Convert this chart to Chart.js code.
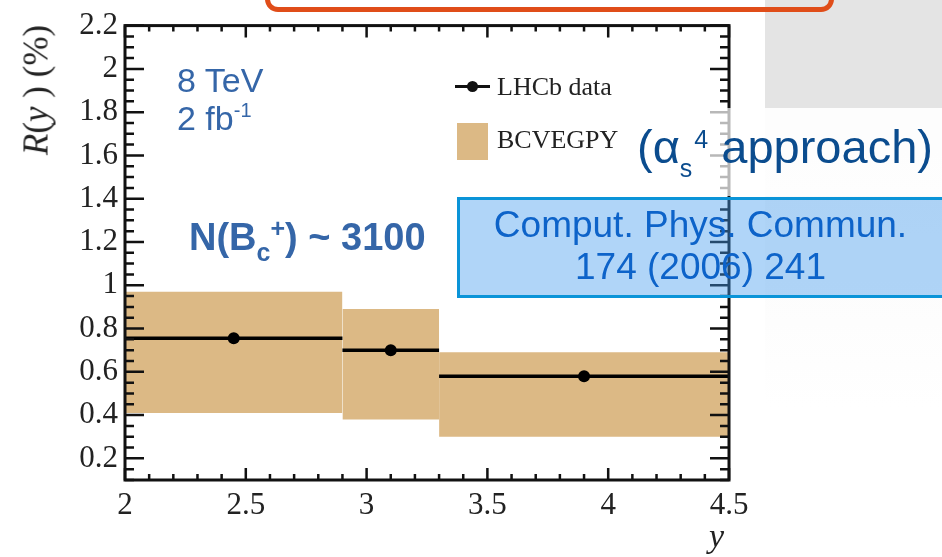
<!DOCTYPE html>
<html>
<head>
<meta charset="utf-8">
<script src="https://cdn.jsdelivr.net/npm/chart.js@4.4.1/dist/chart.umd.min.js"></script>
<style>
html,body{margin:0;padding:0;background:#fff;overflow:hidden}
#wrap{position:relative;width:942px;height:557px;overflow:hidden;background:#fff}
.abs{position:absolute;white-space:nowrap;line-height:1}
.serif{font-family:"Liberation Serif","Times New Roman",serif}
.sans{font-family:"Liberation Sans",Arial,sans-serif}
canvas{position:absolute;left:0;top:0}
</style>
</head>
<body>
<div id="wrap">
  <div class="abs" style="left:765px;top:0;width:177px;height:108px;background:#e4e4e4"></div>
  <div class="abs" style="left:765px;top:108px;width:177px;height:300px;background:linear-gradient(#f8f8f8,#ffffff)"></div>
  <canvas id="c" width="942" height="557"></canvas>

  <div class="abs" style="left:265px;top:-30px;width:559px;height:32px;border:5px solid #e04d19;border-radius:13px"></div>

  <div class="abs" style="left:455px;top:85px;width:35px;height:3px;background:#111"></div>
  <div class="abs" style="left:466.5px;top:81px;width:11px;height:11px;border-radius:50%;background:#111"></div>
  <div class="abs serif" style="left:497px;top:74px;font-size:26px;color:#222">LHCb data</div>
  <div class="abs" style="left:457px;top:123px;width:31px;height:37px;background:#dcb985"></div>
  <div class="abs serif" style="left:497px;top:127px;font-size:26px;color:#222">BCVEGPY</div>

  <div class="abs" style="left:630px;top:108px;width:312px;height:88px;background:rgba(255,255,255,0.7)"></div>
  <div class="abs sans" style="left:637px;top:123px;font-size:47px;color:#0b4c8e">(α<span style="font-size:25px;position:relative;top:14px">s</span><span style="font-size:25px;position:relative;top:-15px;margin-left:2px">4</span> approach)</div>

  <div class="abs" style="left:457px;top:197px;width:520px;height:95px;border:3px solid #0a94d8;background:rgba(67,155,238,0.42)"></div>
  <div class="abs sans" style="left:400px;top:204px;width:601px;text-align:center;font-size:37px;line-height:42px;color:#0d63c9">Comput. Phys. Commun.<br>174 (2006) 241</div>

  <div class="abs sans" style="left:177px;top:63px;font-size:34px;color:#3566a8">8 TeV</div>
  <div class="abs sans" style="left:177px;top:101px;font-size:34px;color:#3566a8">2 fb<span style="font-size:20px;position:relative;top:-13px">-1</span></div>
  <div class="abs sans" style="left:189px;top:218px;font-size:38px;font-weight:bold;color:#3566a8">N(B<span style="font-size:25px;position:relative;top:11px">c</span><span style="font-size:25px;position:relative;top:-13px">+</span>) ~ 3100</div>

  <div class="abs serif" style="left:36px;top:90px;font-size:35px;color:#222;transform:translate(-50%,-50%) rotate(-90deg)"><i>R</i>(<i>y</i> ) (%)</div>
  <div class="abs serif" style="left:709px;top:519px;font-size:34px;color:#222"><i>y</i></div>
</div>
<script>
// ---- data ----
const binLow      = [2.0, 2.9, 3.3];
const binHigh     = [2.9, 3.3, 4.5];
const dataX       = [2.45, 3.10, 3.90];
const dataY       = [0.755, 0.70, 0.58];
const theoryLow   = [0.41, 0.38, 0.30];
const theoryHigh  = [0.97, 0.89, 0.69];
const xTickValues = [2, 2.5, 3, 3.5, 4, 4.5];
const xTickLabels = ['2', '2.5', '3', '3.5', '4', '4.5'];
const yTickValues = [0.2, 0.4, 0.6, 0.8, 1.0, 1.2, 1.4, 1.6, 1.8, 2.0, 2.2];
const yTickLabels = ['0.2', '0.4', '0.6', '0.8', '1', '1.2', '1.4', '1.6', '1.8', '2', '2.2'];

const TAN = '#dcb985';
const datasets = [];
// theory bands (hi dataset filled down to its lo dataset)
binLow.forEach((lo, i) => {
  const hiIdx = datasets.length;
  datasets.push({
    data: [{x: lo, y: theoryHigh[i]}, {x: binHigh[i], y: theoryHigh[i]}],
    borderColor: 'transparent', borderWidth: 0, pointRadius: 0,
    backgroundColor: TAN, fill: hiIdx + 1, order: 2, tension: 0
  });
  datasets.push({
    data: [{x: lo, y: theoryLow[i]}, {x: binHigh[i], y: theoryLow[i]}],
    borderColor: 'transparent', borderWidth: 0, pointRadius: 0,
    fill: false, order: 2
  });
});
// data horizontal bars
binLow.forEach((lo, i) => {
  datasets.push({
    data: [{x: lo, y: dataY[i]}, {x: binHigh[i], y: dataY[i]}],
    borderColor: '#000', borderWidth: 3.5, pointRadius: 0, fill: false, order: 1
  });
});
// data markers
datasets.push({
  data: dataX.map((x, i) => ({x, y: dataY[i]})),
  showLine: false, pointRadius: 6, pointBackgroundColor: '#000',
  pointBorderWidth: 0, borderColor: '#000', fill: false, order: 0
});

const frameTicks = {
  id: 'frameTicks',
  afterDatasetsDraw(chart) {
    const {ctx, chartArea: {left, right, top, bottom}, scales: {x, y}} = chart;
    ctx.save();
    ctx.strokeStyle = '#111';
    ctx.lineWidth = 2.5;
    ctx.beginPath();
    for (let k = 20; k <= 45; k++) {
      const px = x.getPixelForValue(k / 10);
      const len = (k % 5 === 0) ? 12 : 6;
      ctx.moveTo(px, bottom); ctx.lineTo(px, bottom - len);
      ctx.moveTo(px, top); ctx.lineTo(px, top + len);
    }
    for (let k = 2; k <= 44; k++) {
      const py = y.getPixelForValue(k * 0.05);
      const len = (k % 4 === 0) ? 19 : 9;
      ctx.moveTo(left, py); ctx.lineTo(left + len, py);
      ctx.moveTo(right, py); ctx.lineTo(right - len, py);
    }
    ctx.stroke();
    ctx.lineWidth = 3;
    ctx.strokeRect(left, top, right - left, bottom - top);
    ctx.restore();
  }
};

const tickFont = {family: 'Liberation Serif', size: 31};
new Chart(document.getElementById('c'), {
  type: 'line',
  data: {datasets},
  options: {
    responsive: false, animation: false, devicePixelRatio: 1,
    layout: {padding: {top: 23, right: 213, left: 0, bottom: 0}},
    plugins: {legend: {display: false}, tooltip: {enabled: false}},
    scales: {
      x: {
        type: 'linear', min: 2, max: 4.5,
        afterBuildTicks: s => { s.ticks = xTickValues.map(v => ({value: v})); },
        afterFit: s => { s.height = 77; },
        grid: {display: false, drawTicks: false}, border: {display: false},
        ticks: {padding: 7, autoSkip: false, maxRotation: 0, color: '#222', font: tickFont,
                callback: v => xTickLabels[xTickValues.indexOf(v)]}
      },
      y: {
        type: 'linear', min: 0.1, max: 2.2,
        afterBuildTicks: s => { s.ticks = yTickValues.map(v => ({value: v})); },
        afterFit: s => { s.width = 125; },
        grid: {display: false, drawTicks: false}, border: {display: false},
        ticks: {padding: 7, autoSkip: false, color: '#222', font: tickFont,
                callback: v => yTickLabels[yTickValues.findIndex(t => Math.abs(t - v) < 1e-9)]}
      }
    }
  },
  plugins: [frameTicks]
});
</script>
</body>
</html>
